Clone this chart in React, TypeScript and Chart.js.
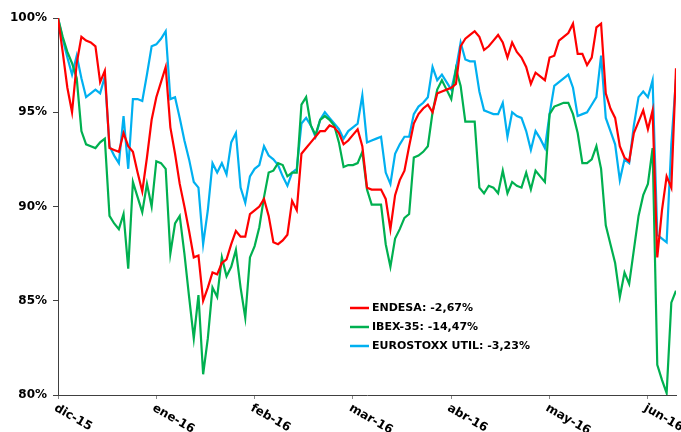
import React, { useEffect, useRef } from 'react';
import { Chart, registerables } from 'chart.js';

Chart.register(...registerables);

// Month tick positions (trading-day index) and their labels
const X_TICK_POS = [0, 21, 42, 63, 84, 105, 126];
const X_TICK_LABELS = ['dic-15', 'ene-16', 'feb-16', 'mar-16', 'abr-16', 'may-16', 'jun-16'];

const Y_MIN = 80;
const Y_MAX = 100;
const Y_STEP = 5;

const SERIES_LABELS = ['ENDESA: -2,67%', 'IBEX-35: -14,47%', 'EUROSTOXX UTIL: -3,23%'];
const SERIES_COLORS = ['#FF0000', '#00B050', '#00B0F0'];

// Base 100 series, one value per trading day
const ENDESA = [
  100, 98.2, 96.3, 95.0, 97.6, 99.0, 98.8, 98.7, 98.5, 96.6,
  97.2, 93.1, 93.0, 92.9, 93.9, 93.2, 92.9, 91.8, 90.8, 92.6,
  94.6, 95.8, 96.6, 97.4, 94.2, 92.8, 91.2, 90.0, 88.7, 87.3,
  87.4, 85.0, 85.7, 86.5, 86.4, 87.0, 87.2, 88.0, 88.7, 88.4,
  88.4, 89.6, 89.8, 90.0, 90.4, 89.5, 88.1, 88.0, 88.2, 88.5,
  90.3, 89.8, 92.8, 93.1, 93.4, 93.7, 94.0, 94.0, 94.3, 94.2,
  93.9, 93.3, 93.5, 93.8, 94.1, 93.2, 91.0, 90.9, 90.9, 90.9,
  90.4, 88.8, 90.6, 91.4, 91.9, 93.2, 94.4, 94.9, 95.2, 95.4,
  95.0, 96.0, 96.1, 96.2, 96.3, 96.5, 98.5, 98.9, 99.1, 99.3,
  99.0, 98.3, 98.5, 98.8, 99.1, 98.7, 97.9, 98.7, 98.2, 97.9,
  97.4, 96.5, 97.1, 96.9, 96.7, 97.9, 98.0, 98.8, 99.0, 99.2,
  99.7, 98.1, 98.1, 97.5, 97.9, 99.5, 99.7, 96.0, 95.2, 94.7,
  93.2, 92.6, 92.4, 93.9, 94.5, 95.1, 94.1, 95.1, 87.3, 89.8,
  91.6, 91.0, 97.33,
];

const IBEX35 = [
  100, 99.0, 98.2, 97.6, 96.8, 94.0, 93.3, 93.2, 93.1, 93.4,
  93.6, 89.5, 89.1, 88.8, 89.6, 86.7, 91.3, 90.5, 89.7, 91.2,
  90.0, 92.4, 92.3, 92.0, 87.5, 89.1, 89.5, 87.5, 85.2, 83.0,
  85.3, 81.1, 83.0, 85.7, 85.2, 87.3, 86.3, 86.8, 87.7, 85.7,
  84.1, 87.3, 87.9, 88.9, 90.5, 91.8, 91.9, 92.3, 92.2, 91.6,
  91.8, 91.8, 95.4, 95.8, 94.3, 93.8, 94.6, 94.8, 94.6, 94.3,
  93.4, 92.1, 92.2, 92.2, 92.3, 92.9, 90.9, 90.1, 90.1, 90.1,
  88.0, 86.8, 88.3, 88.8, 89.4, 89.6, 92.6, 92.7, 92.9, 93.2,
  95.0, 96.2, 96.7, 96.2, 95.7, 97.3, 96.4, 94.5, 94.5, 94.5,
  91.0, 90.7, 91.1, 91.0, 90.7, 91.9, 90.7, 91.3, 91.1, 91.0,
  91.8, 90.9, 91.9, 91.6, 91.3, 94.9, 95.3, 95.4, 95.5, 95.5,
  94.9, 93.9, 92.3, 92.3, 92.5, 93.2, 92.0, 89.0, 88.0, 87.0,
  85.2, 86.5, 85.9, 87.7, 89.5, 90.6, 91.2, 93.1, 81.6, 80.8,
  80.1, 84.9, 85.53,
];

const EUROSTOXX_UTIL = [
  100, 98.9, 97.9, 97.0, 98.0, 96.8, 95.8, 96.0, 96.2, 96.0,
  96.9, 93.2, 92.7, 92.3, 94.8, 92.0, 95.7, 95.7, 95.6, 97.0,
  98.5, 98.6, 98.9, 99.3, 95.7, 95.8, 94.7, 93.5, 92.5, 91.3,
  91.0, 88.0, 89.8, 92.3, 91.8, 92.3, 91.7, 93.4, 93.9, 91.0,
  90.2, 91.6, 92.0, 92.2, 93.2, 92.7, 92.5, 92.2, 91.6, 91.1,
  91.8, 92.0, 94.4, 94.7, 94.3, 93.7, 94.6, 95.0, 94.7, 94.4,
  94.1, 93.6, 94.0, 94.2, 94.4, 95.9, 93.4, 93.5, 93.6, 93.7,
  91.8, 91.2, 92.8, 93.3, 93.7, 93.7, 94.9, 95.3, 95.5, 95.8,
  97.4, 96.7, 97.0, 96.6, 96.2, 97.3, 98.7, 97.8, 97.7, 97.7,
  96.1, 95.1, 95.0, 94.9, 94.9, 95.5, 93.7, 95.0, 94.8, 94.7,
  94.0, 93.0, 94.0, 93.6, 93.1, 94.9, 96.4, 96.6, 96.8, 97.0,
  96.3, 94.8, 94.9, 95.0, 95.4, 95.8, 98.0, 94.7, 94.0, 93.3,
  91.4, 92.5, 92.3, 94.3, 95.8, 96.1, 95.8, 96.7, 88.5, 88.3,
  88.1, 93.3, 96.77,
];

const FONT = '"DejaVu Sans", Verdana, sans-serif';

export default function App() {
  const ref = useRef<HTMLCanvasElement | null>(null);

  useEffect(() => {
    document.body.style.margin = '0';
    const canvas = ref.current;
    if (!canvas) return;

    const series = [ENDESA, IBEX35, EUROSTOXX_UTIL];
    const datasets = series.map((arr, k) => ({
      label: SERIES_LABELS[k],
      data: arr.map((v, i) => ({ x: i, y: v })),
      borderColor: SERIES_COLORS[k],
      backgroundColor: SERIES_COLORS[k],
      borderWidth: 2.2,
      pointRadius: 0,
      tension: 0,
      fill: false,
    }));

    const xLabelPlugin = {
      id: 'xLabels',
      afterDraw(chart: any) {
        const ctx = chart.ctx;
        const xs = chart.scales.x;
        ctx.save();
        ctx.font = `bold 12px ${FONT}`;
        ctx.fillStyle = '#000';
        ctx.textAlign = 'left';
        ctx.textBaseline = 'top';
        X_TICK_POS.forEach((p, k) => {
          const px = xs.getPixelForValue(p);
          ctx.save();
          ctx.translate(px, xs.top + 7);
          ctx.rotate(Math.PI / 6);
          ctx.fillText(X_TICK_LABELS[k], 0, 0);
          ctx.restore();
        });
        ctx.restore();
      },
    };

    const legendPlugin = {
      id: 'innerLegend',
      afterDraw(chart: any) {
        const ctx = chart.ctx;
        const x0 = 350;
        const y0 = 308;
        const rowH = 19;
        ctx.save();
        ctx.font = `bold 11px ${FONT}`;
        ctx.textAlign = 'left';
        ctx.textBaseline = 'middle';
        chart.data.datasets.forEach((ds: any, k: number) => {
          const y = y0 + k * rowH;
          ctx.strokeStyle = ds.borderColor;
          ctx.lineWidth = 2.5;
          ctx.beginPath();
          ctx.moveTo(x0, y);
          ctx.lineTo(x0 + 19, y);
          ctx.stroke();
          ctx.fillStyle = '#000';
          ctx.fillText(ds.label, x0 + 22, y + 0.5);
        });
        ctx.restore();
      },
    };

    const chart = new Chart(canvas, {
      type: 'line',
      data: { datasets },
      options: {
        animation: false,
        responsive: false,
        maintainAspectRatio: false,
        layout: { padding: { top: 18, right: 5, left: 0, bottom: 0 } },
        plugins: { legend: { display: false }, tooltip: { enabled: false } },
        scales: {
          x: {
            type: 'linear',
            min: 0,
            max: ENDESA.length - 1,
            afterBuildTicks: (scale: any) => {
              scale.ticks = X_TICK_POS.map((v) => ({ value: v }));
            },
            afterFit: (scale: any) => {
              scale.height = 37;
            },
            ticks: { display: false },
            grid: {
              drawOnChartArea: false,
              drawTicks: true,
              tickLength: 4,
              tickColor: '#888',
            },
            border: { display: true, color: '#404040', width: 1 },
          },
          y: {
            min: Y_MIN,
            max: Y_MAX,
            afterFit: (scale: any) => {
              scale.width = 58;
            },
            ticks: {
              stepSize: Y_STEP,
              padding: 6,
              color: '#000',
              font: { family: FONT, weight: 'bold', size: 12 },
              callback: (v: any) => `${v}%`,
            },
            grid: {
              drawOnChartArea: false,
              drawTicks: true,
              tickLength: 5,
              tickColor: '#404040',
            },
            border: { display: true, color: '#404040', width: 1 },
          },
        },
      },
      plugins: [xLabelPlugin, legendPlugin],
    } as any);

    return () => chart.destroy();
  }, []);

  return (
    <div style={{ position: 'relative', width: 681, height: 432 }}>
      <canvas ref={ref} width={681} height={432} style={{ display: 'block' }} />
    </div>
  );
}
